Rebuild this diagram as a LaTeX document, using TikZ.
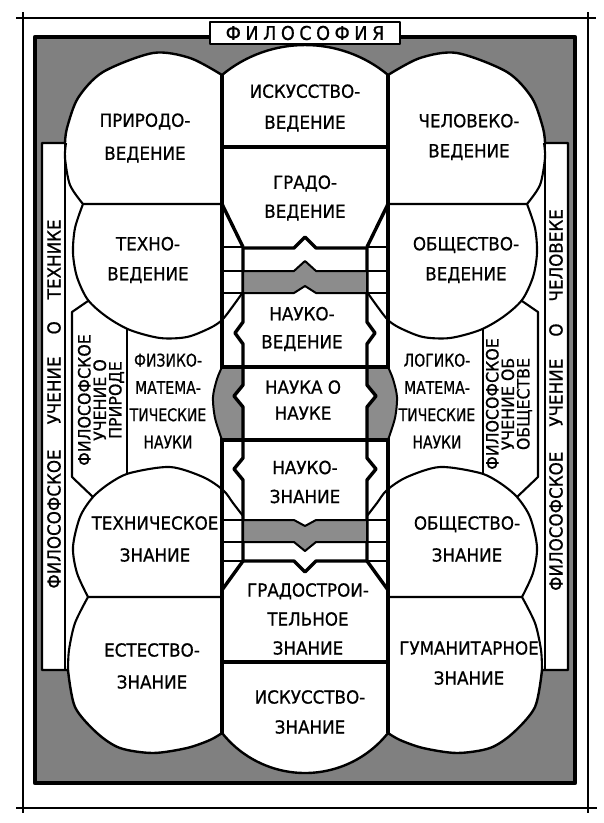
\documentclass[tikz,border=0pt]{standalone}
\usepackage{fontspec}
\newfontfamily\lab[FakeStretch=0.93, FakeBold=0.7]{DejaVu Sans}
\newfontfamily\labc[FakeStretch=0.8, FakeBold=0.7]{DejaVu Sans}
\definecolor{framegray}{gray}{0.5}
\definecolor{bandgray}{gray}{0.55}
\tikzset{
  circ/.style={line width=2.1pt},
  colm/.style={line width=3.4pt},
  heavy/.style={line width=4.4pt},
  rung/.style={line width=1.7pt},
  thinframe/.style={line width=1.1pt},
  lbl/.style={font=\lab\fontsize{18}{31}\selectfont, align=center, inner sep=0pt, text=black},
  vlbl/.style={font=\lab\fontsize{18}{15.5}\selectfont, align=center, inner sep=0pt, rotate=90},
}
\newcommand\sideparts{%
  % strip inner edge
  \draw[circ] (65,143) -- (65,670);
  % upper circle lower part
  \draw[circ] (222,204) -- (83,204) -- plot[smooth] coordinates {(83,204) (70,185) (65,158) (66,143)};
  % second circle
  \draw[circ] plot[smooth] coordinates {(83,204) (75,228) (73,253) (77,277) (88,300) (107,317) (130,330) (160,338) (187,337) (210,328) (222,320) (233,306) (243,292)};
  % panel
  \draw[circ] (88,301) -- (72,312) -- (72,477) -- (93,497);
  \draw[circ] (127,328) -- (127,474);
  % third circle
  \draw[circ] plot[smooth] coordinates {(243,516) (233,503) (223,490) (203,477) (170,467) (130,473) (110,483) (93,497) (80,517) (73,547) (77,573) (88,597)} -- (222,597);
  % lower circle left arc
  \draw[circ] plot[smooth] coordinates {(88,597) (75,623) (69,650) (68,670)};
  % middle column outer vertical and diagonals
  \draw[colm] (222,75) -- (222,733);
  \draw[colm] (222,204) -- (243,247);
  \draw[colm] (243,561) -- (222,590);
  % rungs
  \draw[rung] (222,247) -- (243,247) (222,271) -- (243,271) (222,293) -- (243,293)
              (222,520) -- (243,520) (222,542) -- (243,542) (222,561) -- (243,561);
  % inner verticals with notches
  \draw[colm] (243,247) -- (243,322) -- (235,333) -- (243,344) -- (243,367);
  \draw[colm] (243,440) -- (243,458) -- (234,469) -- (243,480) -- (243,561);
  % grey bulge beside the science-of-science box
  \filldraw[fill=bandgray, draw=black, line width=2pt] (243,367) -- (222,367) -- plot[smooth] coordinates {(222,367) (217,379) (213,397) (215,418) (222,440)} -- (243,440) -- (243,407) -- (234,396) -- (243,385) -- cycle;
  \draw[colm] (243,367) -- (243,385) -- (234,396) -- (243,407) -- (243,440);
}
\begin{document}
\begin{tikzpicture}[x=1pt,y=-1pt,line join=round]
\useasboundingbox (0,0) rectangle (604,823);
% thin outer frame
\draw[thinframe] (16,18) -- (596,18) (16,808) -- (597,808) (23,12) -- (23,813) (588,12) -- (588,813);
% dark frame
\filldraw[fill=framegray, draw=black, line width=4.5pt] (35,37) rectangle (575,783);
% white body
\filldraw[fill=white, draw=black, line width=2.4pt] (42,670) -- (42,143) -- (65,143)
  -- plot[smooth] coordinates {(65,143) (67,128) (78,98) (103,72) (153,53) (190,58) (222,75)}
  arc[start angle=-129.7, end angle=-50.3, radius=130]
  -- plot[smooth] coordinates {(388,75) (420,58) (457,53) (507,72) (532,98) (543,128) (545,143)}
  -- (568,143) -- (568,670) -- (542,670)
  -- plot[smooth] coordinates {(542,670) (535,707) (513,733) (490,748) (457,753) (423,748) (400,740) (388,733)}
  arc[start angle=38.5, end angle=141.5, radius=106]
  -- plot[smooth] coordinates {(222,733) (210,740) (187,748) (153,753) (120,748) (97,733) (75,707) (68,670)}
  -- cycle;
% title box
\node[draw, fill=white, line width=2pt, minimum width=190pt, minimum height=22pt, inner sep=0pt,
      font=\lab\fontsize{19}{19}\selectfont] (philo) at (305,33)
  {Ф\kern4.5pt И\kern4.5pt Л\kern4.5pt О\kern4.5pt С\kern4.5pt О\kern4.5pt Ф\kern4.5pt И\kern4.5pt Я};
% both sides
\sideparts
\begin{scope}[shift={(610,0)}, xscale=-1]
\sideparts
\end{scope}
% centre column
\draw[heavy] (222,147) -- (388,147);
\draw[colm] (243,248) -- (294,248) -- (305,237) -- (316,248) -- (367,248);
\filldraw[fill=bandgray, draw=black, line width=2pt] (243,271) -- (294,271) -- (305,261) -- (316,271) -- (367,271) -- (367,293) -- (316,293) -- (305,286) -- (294,293) -- (243,293) -- cycle;
\draw[colm] (222,367) -- (388,367);
\draw[colm] (222,440) -- (388,440);
\filldraw[fill=bandgray, draw=black, line width=2pt] (243,520) -- (294,520) -- (305,526) -- (316,520) -- (367,520) -- (367,542) -- (316,542) -- (305,551) -- (294,542) -- (243,542) -- cycle;
\draw[colm] (243,561) -- (294,561) -- (305,572) -- (316,561) -- (367,561);
\draw[heavy] (222,662) -- (388,662);
% labels
\node[lbl] (iskved) at (305,108) {ИСКУССТВО-\\ВЕДЕНИЕ};
\node[lbl, font=\lab\fontsize{18}{33}\selectfont] (prirod) at (145,138) {ПРИРОДО-\\ВЕДЕНИЕ};
\node[lbl, font=\lab\fontsize{18}{30}\selectfont] (chelov) at (469,137) {ЧЕЛОВЕКО-\\ВЕДЕНИЕ};
\node[lbl, font=\lab\fontsize{18}{29}\selectfont] (grado) at (305,198) {ГРАДО-\\ВЕДЕНИЕ};
\node[lbl, font=\lab\fontsize{18}{30}\selectfont] (techno) at (148,260) {ТЕХНО-\\ВЕДЕНИЕ};
\node[lbl, font=\lab\fontsize{18}{30}\selectfont] (obshved) at (466,260) {ОБЩЕСТВО-\\ВЕДЕНИЕ};
\node[lbl, font=\lab\fontsize{18}{28}\selectfont] (naukoved) at (302,329) {НАУКО-\\ВЕДЕНИЕ};
\node[lbl, font=\lab\fontsize{18}{26}\selectfont] (naukaonauke) at (303,400) {НАУКА О\\НАУКЕ};
\node[lbl, font=\lab\fontsize{18}{29}\selectfont] (naukozn) at (305,482) {НАУКО-\\ЗНАНИЕ};
\node[lbl, font=\labc\fontsize{17.5}{27.3}\selectfont] (fizmat) at (168,401) {ФИЗИКО-\\МАТЕМА-\\ТИЧЕСКИЕ\\НАУКИ};
\node[lbl, font=\labc\fontsize{17.5}{27.3}\selectfont] (logmat) at (437,401) {ЛОГИКО-\\МАТЕМА-\\ТИЧЕСКИЕ\\НАУКИ};
\node[lbl, font=\lab\fontsize{18}{32}\selectfont] (tehzn) at (155,539) {ТЕХНИЧЕСКОЕ\\ЗНАНИЕ};
\node[lbl, font=\lab\fontsize{18}{32}\selectfont] (obshzn) at (467,539) {ОБЩЕСТВО-\\ЗНАНИЕ};
\node[lbl, font=\lab\fontsize{18}{29}\selectfont] (gradostr) at (308,619) {ГРАДОСТРОИ-\\ТЕЛЬНОЕ\\ЗНАНИЕ};
\node[lbl, font=\lab\fontsize{18}{32}\selectfont] (estzn) at (152,666) {ЕСТЕСТВО-\\ЗНАНИЕ};
\node[lbl, font=\lab\fontsize{18}{30}\selectfont] (gumzn) at (469,663) {ГУМАНИТАРНОЕ\\ЗНАНИЕ};
\node[lbl, font=\lab\fontsize{18}{30}\selectfont] (iskzn) at (310,712) {ИСКУССТВО-\\ЗНАНИЕ};
% rotated strip and panel texts
\node[vlbl] (stripL) at (54,404) {ФИЛОСОФСКОЕ\hspace{25pt}УЧЕНИЕ\hspace{22pt}О\hspace{22pt}ТЕХНИКЕ};
\node[vlbl] (stripR) at (556,400) {ФИЛОСОФСКОЕ\hspace{25pt}УЧЕНИЕ\hspace{22pt}О\hspace{22pt}ЧЕЛОВЕКЕ};
\node[vlbl, font=\lab\fontsize{17}{15.5}\selectfont] (panelL) at (101,400) {ФИЛОСОФСКОЕ\\УЧЕНИЕ О\\ПРИРОДЕ};
\node[vlbl, font=\lab\fontsize{17}{15.5}\selectfont] (panelR) at (509,404) {ФИЛОСОФСКОЕ\\УЧЕНИЕ ОБ\\ОБЩЕСТВЕ};
\end{tikzpicture}
\end{document}
